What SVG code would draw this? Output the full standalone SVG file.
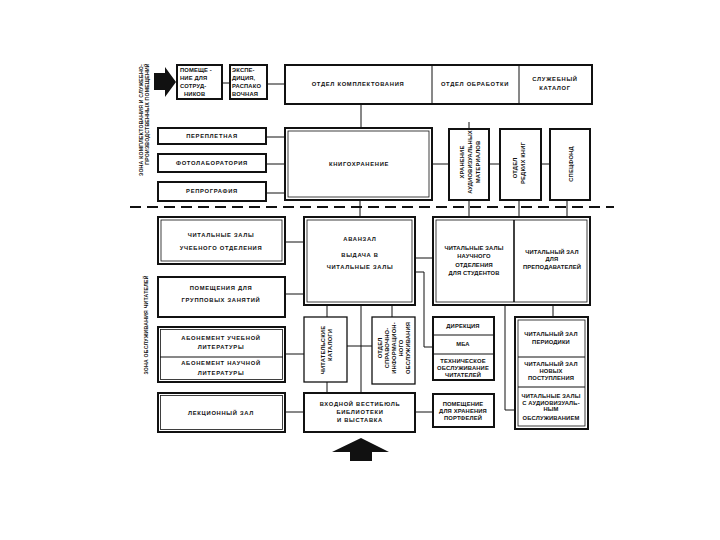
<svg xmlns="http://www.w3.org/2000/svg" width="720" height="540" viewBox="0 0 720 540">
<defs>
<style>
.bg{fill:#fff}
.b1{fill:#fff;stroke:#111;stroke-width:1.3}
.b2{fill:#fff;stroke:#111;stroke-width:2}
.in{fill:none;stroke:#111;stroke-width:0.8}
.dv{stroke:#111;stroke-width:1}
.c{fill:none;stroke:#111;stroke-width:1}
.dash{fill:none;stroke:#111;stroke-width:2;stroke-dasharray:11 6}
.t{font-family:"Liberation Sans",Arial,sans-serif;font-weight:bold;font-size:5.8px;letter-spacing:0.7px;text-anchor:middle;fill:#111}
.n{letter-spacing:0.15px}
.l{text-anchor:start}
.z{font-size:5.2px;letter-spacing:0.2px}
.ar{fill:#111}
</style>
</defs>
<rect class="bg" x="0" y="0" width="720" height="540"/>

<g id="connectors">
<line class="c" x1="222" y1="83" x2="230" y2="83"/>
<line class="c" x1="267" y1="84" x2="285" y2="84"/>
<line class="c" x1="361" y1="104" x2="361" y2="128"/>
<line class="c" x1="266" y1="137" x2="285" y2="137"/>
<line class="c" x1="266" y1="164" x2="285" y2="164"/>
<line class="c" x1="266" y1="193" x2="285" y2="193"/>
<line class="c" x1="432" y1="164" x2="449" y2="164"/>
<line class="c" x1="489" y1="164" x2="500" y2="164"/>
<line class="c" x1="541" y1="164" x2="550" y2="164"/>
<line class="c" x1="360" y1="200" x2="360" y2="217"/>
<line class="c" x1="469" y1="122" x2="469" y2="217"/>
<line class="c" x1="519" y1="200" x2="519" y2="217"/>
<line class="c" x1="567" y1="200" x2="567" y2="217"/>
<line class="c" x1="285" y1="242" x2="304" y2="242"/>
<line class="c" x1="285" y1="294" x2="304" y2="294"/>
<line class="c" x1="415" y1="258" x2="433" y2="258"/>
<polyline class="c" points="415,272 424,272 424,347 433,347"/>
<line class="c" x1="327" y1="305" x2="327" y2="317"/>
<line class="c" x1="361" y1="305" x2="361" y2="393"/>
<line class="c" x1="392" y1="305" x2="392" y2="317"/>
<line class="c" x1="285" y1="354" x2="304" y2="354"/>
<line class="c" x1="347" y1="346" x2="372" y2="346"/>
<line class="c" x1="327" y1="382" x2="327" y2="393"/>
<line class="c" x1="285" y1="412" x2="304" y2="412"/>
<line class="c" x1="415" y1="412" x2="433" y2="412"/>
<line class="c" x1="553" y1="305" x2="553" y2="317"/>
<polyline class="c" points="505,305 505,410 515,410"/>
</g>

<g id="zone-divider">
<line class="dash" x1="130" y1="207" x2="614" y2="207"/>
</g>

<g id="zone-labels">
<text class="t z" transform="translate(143,120) rotate(-90)">ЗОНА КОМПЛЕКТОВАНИЯ И СЛУЖЕБНО-</text>
<text class="t z" transform="translate(149,114) rotate(-90)">ПРОИЗВОДСТВЕННЫХ ПОМЕЩЕНИЙ</text>
<text class="t z" transform="translate(148,325) rotate(-90)">ЗОНА ОБСЛУЖИВАНИЯ ЧИТАТЕЛЕЙ</text>
</g>

<g id="arrow-top">
<polygon class="ar" points="154,73 165,73 165,67 176,82 165,97 165,90 154,90"/>
</g>
<g id="arrow-bottom">
<polygon class="ar" points="361,438 389,452 372,452 372,461 350,461 350,452 332,452"/>
</g>

<g id="staff-room">
<rect class="b2" x="177" y="65" width="45" height="34"/>
<text class="t n l" x="180" y="72">ПОМЕЩЕ -</text>
<text class="t n l" x="180" y="80">НИЕ  ДЛЯ</text>
<text class="t n l" x="180" y="88">СОТРУД-</text>
<text class="t n l" x="184" y="96">НИКОВ</text>
</g>

<g id="expedition">
<rect class="b2" x="230" y="65" width="37" height="34"/>
<text class="t n l" x="232" y="72">ЭКСПЕ-</text>
<text class="t n l" x="232" y="80">ДИЦИЯ,</text>
<text class="t n l" x="232" y="88">РАСПАКО</text>
<text class="t n l" x="232" y="96">ВОЧНАЯ</text>
</g>

<g id="top-departments">
<rect class="b2" x="285" y="65" width="307" height="39"/>
<line class="dv" x1="432" y1="65" x2="432" y2="104"/>
<line class="dv" x1="519" y1="65" x2="519" y2="104"/>
<text class="t" x="358" y="86">ОТДЕЛ КОМПЛЕКТОВАНИЯ</text>
<text class="t" x="475" y="86">ОТДЕЛ ОБРАБОТКИ</text>
<text class="t" x="555" y="81">СЛУЖЕБНЫЙ</text>
<text class="t" x="555" y="90">КАТАЛОГ</text>
</g>

<g id="bindery">
<rect class="b2" x="158" y="128" width="108" height="16"/>
<text class="t" x="212" y="138">ПЕРЕПЛЕТНАЯ</text>
</g>
<g id="photolab">
<rect class="b2" x="158" y="154" width="108" height="18"/>
<text class="t" x="212" y="165">ФОТОЛАБОРАТОРИЯ</text>
</g>
<g id="reprography">
<rect class="b2" x="158" y="182" width="108" height="19"/>
<text class="t" x="212" y="193">РЕПРОГРАФИЯ</text>
</g>

<g id="book-storage">
<rect class="b2" x="285" y="128" width="147" height="72"/>
<rect class="in" x="288" y="131" width="141" height="66"/>
<text class="t" x="359" y="166">КНИГОХРАНЕНИЕ</text>
</g>

<g id="av-storage">
<rect class="b2" x="449" y="129" width="40" height="71"/>
<text class="t n" transform="translate(464,162) rotate(-90)">ХРАНЕНИЕ</text>
<text class="t n" transform="translate(472,162) rotate(-90)">АУДИОВИЗУАЛЬНЫХ</text>
<text class="t n" transform="translate(480,162) rotate(-90)">МАТЕРИАЛОВ</text>
</g>

<g id="rare-books">
<rect class="b2" x="500" y="129" width="41" height="71"/>
<text class="t n" transform="translate(517,168) rotate(-90)">ОТДЕЛ</text>
<text class="t n" transform="translate(525,163) rotate(-90)">РЕДКИХ КНИГ</text>
</g>

<g id="special-fund">
<rect class="b2" x="550" y="129" width="40" height="71"/>
<text class="t n" transform="translate(573,164) rotate(-90)">СПЕЦФОНД</text>
</g>

<g id="study-reading">
<rect class="b2" x="158" y="217" width="127" height="47"/>
<rect class="in" x="161" y="220" width="121" height="41"/>
<text class="t" x="221" y="237">ЧИТАЛЬНЫЕ ЗАЛЫ</text>
<text class="t" x="221" y="250">УЧЕБНОГО ОТДЕЛЕНИЯ</text>
</g>

<g id="group-rooms">
<rect class="b2" x="158" y="277" width="127" height="40"/>
<text class="t" x="221" y="290">ПОМЕЩЕНИЯ ДЛЯ</text>
<text class="t" x="221" y="302">ГРУППОВЫХ ЗАНЯТИЙ</text>
</g>

<g id="avanzal">
<rect class="b2" x="304" y="217" width="111" height="88"/>
<rect class="in" x="307" y="220" width="105" height="82"/>
<text class="t" x="360" y="241">АВАНЗАЛ</text>
<text class="t" x="360" y="257">ВЫДАЧА В</text>
<text class="t" x="360" y="269">ЧИТАЛЬНЫЕ ЗАЛЫ</text>
</g>

<g id="science-reading">
<rect class="b2" x="433" y="217" width="157" height="88"/>
<rect class="in" x="436" y="220" width="151" height="82"/>
<line class="dv" x1="514" y1="220" x2="514" y2="302" style="stroke-width:1.6"/>
<text class="t n" x="474" y="250">ЧИТАЛЬНЫЕ ЗАЛЫ</text>
<text class="t n" x="474" y="258">НАУЧНОГО</text>
<text class="t n" x="474" y="267">ОТДЕЛЕНИЯ</text>
<text class="t n" x="474" y="275">ДЛЯ СТУДЕНТОВ</text>
<text class="t n" x="552" y="254">ЧИТАЛЬНЫЙ ЗАЛ</text>
<text class="t n" x="552" y="261">ДЛЯ</text>
<text class="t n" x="552" y="269">ПРЕПОДАВАТЕЛЕЙ</text>
</g>

<g id="lending">
<rect class="b2" x="158" y="327" width="127" height="55"/>
<rect class="in" x="160.5" y="329.5" width="122" height="50"/>
<line class="dv" x1="160" y1="357" x2="283" y2="357"/>
<text class="t" x="221" y="340">АБОНЕМЕНТ УЧЕБНОЙ</text>
<text class="t" x="221" y="349">ЛИТЕРАТУРЫ</text>
<text class="t" x="221" y="365">АБОНЕМЕНТ НАУЧНОЙ</text>
<text class="t" x="221" y="375">ЛИТЕРАТУРЫ</text>
</g>

<g id="catalogs">
<rect class="b1" x="304" y="317" width="43" height="65"/>
<text class="t n" transform="translate(325,350) rotate(-90)">ЧИТАТЕЛЬСКИЕ</text>
<text class="t n" transform="translate(332,345) rotate(-90)">КАТАЛОГИ</text>
</g>

<g id="reference-dept">
<rect class="b1" x="372" y="317" width="43" height="67"/>
<text class="t n" transform="translate(382,348) rotate(-90)">ОТДЕЛ</text>
<text class="t n" transform="translate(389,348) rotate(-90)">СПРАВОЧНО-</text>
<text class="t n" transform="translate(396,348) rotate(-90)">ИНФОРМАЦИОН-</text>
<text class="t n" transform="translate(403,348) rotate(-90)">НОГО</text>
<text class="t n" transform="translate(410,348) rotate(-90)">ОБСЛУЖИВАНИЯ</text>
</g>

<g id="lecture-hall">
<rect class="b2" x="158" y="393" width="127" height="39"/>
<rect class="in" x="160.5" y="395.5" width="122" height="34"/>
<text class="t" x="221" y="415">ЛЕКЦИОННЫЙ ЗАЛ</text>
</g>

<g id="vestibule">
<rect class="b2" x="304" y="393" width="111" height="39"/>
<text class="t" x="360" y="406">ВХОДНОЙ ВЕСТИБЮЛЬ</text>
<text class="t" x="360" y="414">БИБЛИОТЕКИ</text>
<text class="t" x="360" y="422">И ВЫСТАВКА</text>
</g>

<g id="admin">
<rect class="b2" x="433" y="317" width="61" height="63"/>
<line class="dv" x1="433" y1="335" x2="494" y2="335"/>
<line class="dv" x1="433" y1="354" x2="494" y2="354"/>
<text class="t n" x="463" y="328">ДИРЕКЦИЯ</text>
<text class="t n" x="463" y="346">МБА</text>
<text class="t n" x="463" y="363">ТЕХНИЧЕСКОЕ</text>
<text class="t n" x="463" y="370">ОБСЛУЖИВАНИЕ</text>
<text class="t n" x="463" y="377">ЧИТАТЕЛЕЙ</text>
</g>

<g id="briefcase-room">
<rect class="b2" x="433" y="394" width="61" height="33"/>
<text class="t n" x="463" y="406">ПОМЕЩЕНИЕ</text>
<text class="t n" x="463" y="413">ДЛЯ ХРАНЕНИЯ</text>
<text class="t n" x="463" y="420">ПОРТФЕЛЕЙ</text>
</g>

<g id="periodicals">
<rect class="b2" x="515" y="317" width="73" height="112"/>
<rect class="in" x="518" y="320" width="67" height="106"/>
<line class="dv" x1="518" y1="357" x2="585" y2="357"/>
<line class="dv" x1="518" y1="387" x2="585" y2="387"/>
<text class="t n" x="551" y="336">ЧИТАЛЬНЫЙ ЗАЛ</text>
<text class="t n" x="551" y="344">ПЕРИОДИКИ</text>
<text class="t n" x="551" y="366">ЧИТАЛЬНЫЙ ЗАЛ</text>
<text class="t n" x="551" y="373">НОВЫХ</text>
<text class="t n" x="551" y="380">ПОСТУПЛЕНИЯ</text>
<text class="t n" x="551" y="398">ЧИТАЛЬНЫЕ ЗАЛЫ</text>
<text class="t n" x="551" y="405">С АУДИОВИЗУАЛЬ-</text>
<text class="t n" x="551" y="411">НЫМ</text>
<text class="t n" x="551" y="420">ОБСЛУЖИВАНИЕМ</text>
</g>
</svg>
